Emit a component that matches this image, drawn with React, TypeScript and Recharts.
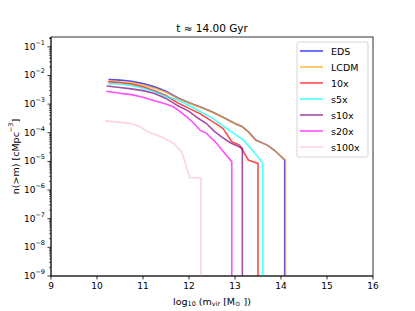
import React from 'react';
import { LineChart, Line, XAxis, YAxis, Customized } from 'recharts';

// halo mass function n(>m) at t ~ 14 Gyr
const edsMass = [10.25, 10.5, 10.75, 11.0, 11.25, 11.5, 11.75, 12.0, 12.25, 12.5, 12.75, 13.0, 13.15, 13.3, 13.45, 13.7, 13.85, 14.08, 14.08];
const edsN = [7.2e-3, 6.9e-3, 6.3e-3, 5.2e-3, 4.0e-3, 2.8e-3, 1.66e-3, 1.12e-3, 7.9e-4, 5.4e-4, 3.4e-4, 2.1e-4, 1.66e-4, 1.05e-4, 5.6e-5, 3.7e-5, 2.5e-5, 1.12e-5, 1e-9];

const lcdmMass = [10.25, 10.5, 10.75, 11.0, 11.25, 11.5, 11.75, 12.0, 12.25, 12.5, 12.75, 13.0, 13.15, 13.3, 13.45, 13.7, 13.85, 14.1, 14.1];
const lcdmN = [6.2e-3, 6.0e-3, 5.5e-3, 4.6e-3, 3.6e-3, 2.6e-3, 1.6e-3, 1.1e-3, 7.8e-4, 5.3e-4, 3.4e-4, 2.1e-4, 1.64e-4, 1.05e-4, 5.5e-5, 3.7e-5, 2.5e-5, 1.1e-5, 1e-9];

const x10Mass = [10.24, 10.5, 10.75, 11.0, 11.25, 11.5, 11.75, 12.0, 12.25, 12.46, 12.6, 12.74, 12.93, 13.1, 13.29, 13.5, 13.5];
const x10N = [6.0e-3, 5.6e-3, 5.0e-3, 4.0e-3, 2.95e-3, 2.0e-3, 1.12e-3, 7.1e-4, 4.5e-4, 2.75e-4, 2.0e-4, 1.41e-4, 4.9e-5, 3.7e-5, 1.12e-5, 8.5e-6, 1e-9];

const s5Mass = [10.25, 10.5, 10.75, 11.0, 11.25, 11.5, 11.75, 12.0, 12.25, 12.5, 12.82, 13.0, 13.18, 13.4, 13.6, 13.6];
const s5N = [5.2e-3, 5.0e-3, 4.5e-3, 3.6e-3, 2.7e-3, 1.86e-3, 1.4e-3, 8.9e-4, 5.4e-4, 3.3e-4, 1.41e-4, 8.9e-5, 5.6e-5, 2.2e-5, 8.9e-6, 1e-9];

const s10Mass = [10.21, 10.5, 10.75, 11.0, 11.25, 11.5, 11.75, 12.0, 12.2, 12.38, 12.55, 12.74, 12.9, 13.1, 13.16, 13.16];
const s10N = [4.3e-3, 3.8e-3, 3.4e-3, 2.95e-3, 2.34e-3, 1.58e-3, 8.9e-4, 5.6e-4, 3.2e-4, 2.1e-4, 1.12e-4, 6.6e-5, 4.5e-5, 3.2e-5, 2.9e-5, 1e-9];

const s20Mass = [10.2, 10.5, 10.75, 11.0, 11.25, 11.5, 11.66, 11.8, 11.95, 12.1, 12.24, 12.38, 12.6, 12.78, 12.93, 12.93];
const s20N = [2.8e-3, 2.4e-3, 2.14e-3, 1.74e-3, 1.32e-3, 1.0e-3, 8.1e-4, 5.6e-4, 3.6e-4, 2.2e-4, 1.23e-4, 9.5e-5, 4.3e-5, 1.9e-5, 9.8e-6, 1e-9];

const s100Mass = [10.18, 10.5, 10.75, 10.94, 11.12, 11.37, 11.66, 11.84, 12.02, 12.26, 12.26];
const s100N = [2.6e-4, 2.3e-4, 2.1e-4, 1.62e-4, 1.05e-4, 7.6e-5, 4.3e-5, 2.2e-5, 2.7e-6, 2.7e-6, 1e-9];

const xTicks = [9, 10, 11, 12, 13, 14, 15, 16];
const yExponents = [-9, -8, -7, -6, -5, -4, -3, -2, -1];
const Y_MIN = 1e-9;
const Y_MAX = 0.22;

const zip = (m: number[], n: number[]) => m.map((v, i) => ({ m: v, n: n[i] }));

const series = [
  { name: 'EDS', color: '#0000ff', data: zip(edsMass, edsN) },
  { name: 'LCDM', color: '#ffa500', data: zip(lcdmMass, lcdmN) },
  { name: '10x', color: '#ff0000', data: zip(x10Mass, x10N) },
  { name: 's5x', color: '#00ffff', data: zip(s5Mass, s5N) },
  { name: 's10x', color: '#800080', data: zip(s10Mass, s10N) },
  { name: 's20x', color: '#ff00ff', data: zip(s20Mass, s20N) },
  { name: 's100x', color: '#ffc0cb', data: zip(s100Mass, s100N) },
];

// major + minor log ticks
const yTicks: number[] = [];
yExponents.forEach((e) => {
  for (let k = 1; k <= 9; k++) {
    const v = k * Math.pow(10, e);
    if (v <= Y_MAX) yTicks.push(v);
  }
});
yTicks.push(0.2);

const FONT = '"DejaVu Sans", sans-serif';
const W = 415;
const H = 311;
const PLOT = { left: 51, top: 37, right: 373, bottom: 276 };

const isMajor = (v: number) => {
  const l = Math.log10(v);
  return Math.abs(l - Math.round(l)) < 1e-6;
};

const YTick = (props: any) => {
  const { x, y, payload } = props;
  const v = payload.value;
  const major = isMajor(v);
  const ax = x + 6;
  return (
    <g>
      <line x1={ax - (major ? 3.5 : 2)} x2={ax} y1={y} y2={y} stroke="#000" strokeWidth={major ? 0.8 : 0.6} />
      {major && (
        <text x={x} y={y} textAnchor="end" dominantBaseline="central" fontFamily={FONT} fontSize={9} fill="#000">
          <tspan>10</tspan>
          <tspan dy={-4} fontSize={6.5}>{'\u2212' + Math.abs(Math.round(Math.log10(v)))}</tspan>
        </text>
      )}
    </g>
  );
};

const Decorations = () => (
  <g>
    <rect x={PLOT.left} y={PLOT.top} width={PLOT.right - PLOT.left} height={PLOT.bottom - PLOT.top} fill="none" stroke="#000" strokeWidth={0.8} />
    <text x={(PLOT.left + PLOT.right) / 2} y={28} textAnchor="middle" dominantBaseline="central" fontFamily={FONT} fontSize={10.5} fill="#000">
      t {'\u2248'} 14.00 Gyr
    </text>
    <text x={(PLOT.left + PLOT.right) / 2} y={301} textAnchor="middle" dominantBaseline="central" fontFamily={FONT} fontSize={9.5} fill="#000">
      <tspan>log</tspan>
      <tspan dy={2.5} fontSize={6.5}>10</tspan>
      <tspan dy={-2.5}> (m</tspan>
      <tspan dy={2.5} fontSize={6.5}>vir</tspan>
      <tspan dy={-2.5}> [M</tspan>
      <tspan dy={2.5} fontSize={6.5}>{'\u2299'}</tspan>
      <tspan dy={-2.5}> ])</tspan>
    </text>
    <text x={15} y={(PLOT.top + PLOT.bottom) / 2} transform={`rotate(-90 15 ${(PLOT.top + PLOT.bottom) / 2})`} textAnchor="middle" dominantBaseline="central" fontFamily={FONT} fontSize={9.5} fill="#000">
      <tspan>n(&gt;m) [cMpc</tspan>
      <tspan dy={-4} fontSize={6.5}>{'\u2212'}3</tspan>
      <tspan dy={4}>]</tspan>
    </text>
    <rect x={297} y={42} width={71} height={115} rx={2} fill="#fff" fillOpacity={0.8} stroke="#cccccc" strokeWidth={0.8} />
    {series.map((s, i) => {
      const ly = 51 + i * 16;
      return (
        <g key={s.name}>
          <line x1={300} x2={323} y1={ly} y2={ly} stroke={s.color} strokeOpacity={0.7} strokeWidth={1.6} />
          <text x={331} y={ly} dominantBaseline="central" fontFamily={FONT} fontSize={9.5} fill="#000">{s.name}</text>
        </g>
      );
    })}
  </g>
);

export default function App() {
  return (
    <div style={{ position: 'absolute', left: 0, top: 0, width: W, height: H, background: '#fff' }}>
      <LineChart width={W} height={H} margin={{ top: PLOT.top, right: W - PLOT.right, bottom: 0, left: 0 }}>
        <XAxis
          dataKey="m"
          type="number"
          domain={[9, 16]}
          ticks={xTicks}
          interval={0}
          allowDataOverflow
          height={H - PLOT.bottom}
          tickSize={3.5}
          tickMargin={3}
          axisLine={{ stroke: '#000', strokeWidth: 0.8 }}
          tickLine={{ stroke: '#000', strokeWidth: 0.8 }}
          tick={{ fill: '#000', fontSize: 9, fontFamily: FONT }}
        />
        <YAxis
          dataKey="n"
          type="number"
          scale="log"
          domain={[Y_MIN, Y_MAX]}
          ticks={yTicks}
          interval={0}
          allowDataOverflow
          width={PLOT.left}
          tickSize={3}
          tickMargin={3}
          axisLine={{ stroke: '#000', strokeWidth: 0.8 }}
          tickLine={false}
          tick={<YTick />}
        />
        {series.map((s) => (
          <Line
            key={s.name}
            data={s.data}
            dataKey="n"
            type="linear"
            stroke={s.color}
            strokeOpacity={0.7}
            strokeWidth={1.6}
            dot={false}
            isAnimationActive={false}
          />
        ))}
        <Customized component={Decorations} />
      </LineChart>
    </div>
  );
}
